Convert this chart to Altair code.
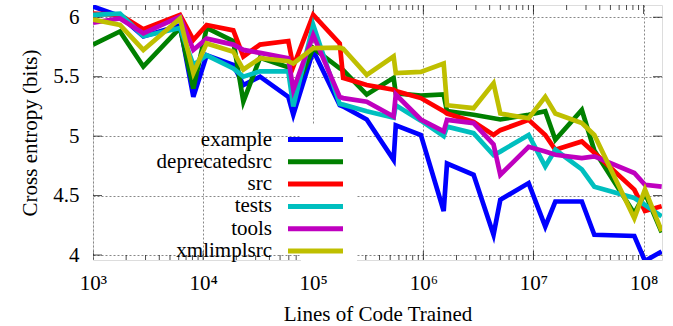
import altair as alt
import pandas as pd

# x positions (lines of code trained)
x_vals = [1000, 1758, 2864, 6170, 8150, 10770, 18800, 23200, 32900, 59400,
          65900, 100000, 174000, 187000, 306000, 537000, 562000, 949000, 1530000, 1640000,
          2860000, 4340000, 5000000, 9040000, 12800000, 15800000, 27500000, 35700000, 82400000, 103000000,
          146000000]

example = [6.09, 6.01, 5.84, 5.93, 5.33, 5.68, 5.60, 5.43, 5.50, 5.33,
           5.18, 5.72, 5.26, 5.25, 5.14, 4.80, 5.09, 5.01, 4.37, 4.77,
           4.675, 4.17, 4.465, 4.605, 4.24, 4.45, 4.45, 4.17, 4.16, 3.95,
           4.03]
deprecatedsrc = [5.77, 5.88, 5.585, 5.91, 5.40, 5.91, 5.80, 5.29, 5.66, 5.58,
                 5.35, 5.74, 5.57, 5.555, 5.35, 5.49, 5.36, 5.34, 5.35, 5.21,
                 5.18, 5.15, 5.14, 5.18, 5.21, 4.97, 5.22, 4.88, 4.35, 4.52,
                 4.19]
src = [6.03, 6.02, 5.90, 6.02, 5.81, 5.935, 5.89, 5.67, 5.77, 5.80,
       5.585, 6.02, 5.78, 5.49, 5.43, 5.39, 5.38, 5.32, 5.21, 5.19,
       5.12, 5.01, 5.05, 5.137, 5.01, 4.885, 4.955, 4.86, 4.55, 4.37,
       4.41]
tests = [6.02, 6.03, 5.84, 5.91, 5.60, 5.68, 5.57, 5.50, 5.545, 5.545,
         5.25, 5.935, 5.27, 5.265, 5.21, 5.155, 5.26, 5.13, 5.00, 5.08,
         5.025, 4.84, 4.87, 5.01, 4.745, 4.885, 4.72, 4.575, 4.48, 4.42,
         4.325]
tools = [5.955, 5.99, 5.865, 6.005, 5.725, 5.82, 5.77, 5.725, 5.70, 5.655,
         5.39, 5.85, 5.33, 5.32, 5.29, 5.165, 5.35, 5.14, 5.04, 5.137,
         5.11, 4.93, 4.675, 4.91, 4.87, 4.843, 4.815, 4.83, 4.69, 4.59,
         4.575]
xmlimplsrc = [5.98, 5.935, 5.725, 5.99, 5.53, 5.78, 5.71, 5.56, 5.655, 5.63,
              5.61, 5.74, 5.745, 5.735, 5.515, 5.67, 5.53, 5.54, 5.61, 5.26,
              5.235, 5.445, 5.19, 5.15, 5.33, 5.19, 5.11, 5.01, 4.31, 4.55,
              4.20]

series_names = ["example", "deprecatedsrc", "src", "tests", "tools", "xmlimplsrc"]
series_vals = [example, deprecatedsrc, src, tests, tools, xmlimplsrc]
series_colors = ["#0000ff", "#008000", "#ff0000", "#00bfbf", "#bf00bf", "#bfbf00"]

x_major = [1e3, 1e4, 1e5, 1e6, 1e7, 1e8]
x_minor = [m * 10 ** d for d in range(3, 9) for m in range(2, 10) if m * 10 ** d <= 1.47e8]
y_major = [4, 4.5, 5, 5.5, 6]
x_domain = [1000, 1.47e8]
y_domain = [3.958, 6.103]

rows = []
for i, (name, vals) in enumerate(zip(series_names, series_vals)):
    for x, y in zip(x_vals, vals):
        rows.append({"loc": x, "ce": y, "series": name, "k": i})
df = pd.DataFrame(rows)

FONT = "Liberation Serif"

xs = alt.Scale(type="log", domain=x_domain, nice=False)
ys = alt.Scale(domain=y_domain, nice=False, zero=False)

lines = alt.Chart(df).mark_line(strokeWidth=4.7, strokeJoin="miter", clip=True).encode(
    x=alt.X("loc:Q", scale=xs, title="Lines of Code Trained",
            axis=alt.Axis(values=x_major, ticks=False, grid=True, gridDash=[2, 2], gridColor="#888",
                          labelExpr="'10' + ['³','⁴','⁵','⁶','⁷','⁸'][round(log(datum.value)/LN10)-3]",
                          labelFont=FONT, labelFontSize=21, labelPadding=12, labelColor="#000",
                          titleFont=FONT, titleFontSize=21, titleFontWeight="normal", titlePadding=10,
                          titleColor="#000", domain=False, labelFlush=False)),
    y=alt.Y("ce:Q", scale=ys, title="Cross entropy (bits)",
            axis=alt.Axis(values=y_major, ticks=False, grid=True, gridDash=[2, 2], gridColor="#888",
                          format="~g", labelFont=FONT, labelFontSize=21, labelPadding=14,
                          labelColor="#000", titleFont=FONT, titleFontSize=21, titleFontWeight="normal",
                          titlePadding=12, titleColor="#000", domain=False)),
    color=alt.Color("series:N", scale=alt.Scale(domain=series_names, range=series_colors),
                    legend=alt.Legend(title=None, orient="none", legendX=208, legendY=120,
                                      symbolType="M-5,0L5,0", symbolSize=121, symbolStrokeWidth=5,
                                      labelFont=FONT, labelFontSize=21, labelColor="#000",
                                      labelAlign="right", labelOffset={"expr": "-54"}, rowPadding=0.3,
                                      fillColor="white", padding=4, labelLimit=300)),
    order="k:Q",
)

minor_df = pd.DataFrame({"v": x_minor})
major_df = pd.DataFrame({"v": x_major})
ymaj_df = pd.DataFrame({"v": y_major})

def xticks(data, size, edge):
    return alt.Chart(data).mark_tick(orient="vertical", size=size, thickness=1, color="#000", clip=True).encode(
        x=alt.X("v:Q", scale=xs), y=alt.YDatum(edge))

def yticks(data, size, edge):
    return alt.Chart(data).mark_tick(orient="horizontal", size=size, thickness=1, color="#000", clip=True).encode(
        y=alt.Y("v:Q", scale=ys), x=alt.XDatum(edge))

ticks = [
    xticks(minor_df, 10, y_domain[0]), xticks(minor_df, 10, y_domain[1]),
    xticks(major_df, 18, y_domain[0]), xticks(major_df, 18, y_domain[1]),
    yticks(ymaj_df, 18, x_domain[0]), yticks(ymaj_df, 18, x_domain[1]),
]

chart = alt.layer(*ticks, lines).properties(
    width=569, height=255,
    autosize=alt.AutoSizeParams(type="none"),
    padding={"left": 93, "top": 5, "right": 11, "bottom": 66},
).configure_view(stroke="#222", strokeWidth=1.2).configure(background="white")

chart.save("out.html", embed_options={"renderer": "svg", "actions": False})
